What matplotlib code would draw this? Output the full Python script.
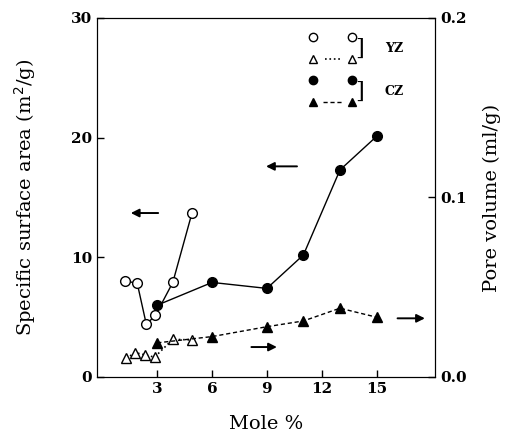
import numpy as np
import matplotlib
matplotlib.use('Agg')
from matplotlib import pyplot as plt

# surface area (left axis)
yz_x = [1.25, 1.9, 2.4, 2.9, 3.85, 4.9]
yz_area = [8.0, 7.85, 4.4, 5.15, 7.9, 13.7]
cz_x = [3, 6, 9, 11, 13, 15]
cz_area = [6.0, 7.9, 7.4, 10.2, 17.3, 20.1]

# pore volume (right axis)
yz_px = [1.3, 1.8, 2.35, 2.85, 3.85, 4.9]
yz_pore = [0.0105, 0.0135, 0.0123, 0.011, 0.021, 0.0206]
cz_pore = [0.019, 0.0225, 0.028, 0.0312, 0.0383, 0.0333]

plt.rcParams['font.family'] = ['DejaVu Serif']

fig = plt.figure(figsize=(5.2, 4.44), dpi=100)
ax = fig.add_axes([0.1865, 0.151, 0.65, 0.8085])
ax2 = ax.twinx()

ms = 7
ax.plot(yz_x, yz_area, '-', color='black', lw=1.0, marker='o', ms=ms,
        mfc='white', mec='black', mew=1.0)
ax.plot(cz_x, cz_area, '-', color='black', lw=1.0, marker='o', ms=ms,
        mfc='black', mec='black')
ax2.plot(yz_px, yz_pore, ':', color='black', lw=1.2, marker='^', ms=ms,
         mfc='white', mec='black', mew=1.0)
ax2.plot(cz_x, cz_pore, color='black', lw=1.0, ls=(0, (3, 2)), marker='^', ms=ms,
         mfc='black', mec='black')

ax.set_xlim(-0.3, 18.2)
ax.set_ylim(0, 30)
ax2.set_ylim(0, 0.2)
ax.set_xticks([3, 6, 9, 12, 15])
ax.set_yticks([0, 10, 20, 30])
ax2.set_yticks([0.0, 0.1, 0.2])
ax2.set_yticklabels(['0.0', '0.1', '0.2'])

ax.tick_params(direction='in', length=5, labelsize=11, width=1)
ax2.tick_params(direction='in', length=5, labelsize=11, width=1)
for t in ax.get_xticklabels() + ax.get_yticklabels() + ax2.get_yticklabels():
    t.set_fontweight('bold')

ax.set_xlabel('Mole %', fontsize=14, labelpad=14)
ax.set_ylabel('Specific surface area (m$^2$/g)', fontsize=14, labelpad=24)
ax2.set_ylabel('Pore volume (ml/g)', fontsize=14, labelpad=12)

# arrows pointing to the axis each series belongs to
arrow = dict(arrowstyle='-|>', color='black', lw=1.4, mutation_scale=12)
ax.annotate('', xy=(1.4, 13.7), xytext=(3.2, 13.7), arrowprops=arrow)
ax.annotate('', xy=(8.8, 17.6), xytext=(10.8, 17.6), arrowprops=arrow)
ax.annotate('', xy=(9.7, 2.5), xytext=(8.0, 2.5), arrowprops=arrow)
ax.annotate('', xy=(17.8, 4.9), xytext=(16.0, 4.9), arrowprops=arrow)

# legend drawn by hand
tr = ax.transAxes
lx1, lx2 = 0.64, 0.755
lms = 6
ax.plot([lx1, lx2], [0.946, 0.946], 'o', transform=tr, ms=lms, mfc='white', mec='black', clip_on=False)
ax.plot([lx1, lx2], [0.886, 0.886], '^', transform=tr, ms=lms, mfc='white', mec='black', clip_on=False)
ax.plot([0.675, 0.72], [0.886, 0.886], ':', transform=tr, color='black', lw=1.2)
ax.plot([lx1, lx2], [0.827, 0.827], 'o', transform=tr, ms=lms, mfc='black', mec='black', clip_on=False)
ax.plot([lx1, lx2], [0.766, 0.766], '^', transform=tr, ms=lms, mfc='black', mec='black', clip_on=False)
ax.plot([0.67, 0.725], [0.766, 0.766], transform=tr, color='black', ls=(0, (3, 2)), lw=1.0)
ax.text(0.777, 0.915, ']', transform=tr, fontsize=16, va='center', ha='center')
ax.text(0.777, 0.795, ']', transform=tr, fontsize=16, va='center', ha='center')
ax.text(0.88, 0.915, 'YZ', transform=tr, fontsize=9, va='center', ha='center', fontweight='bold')
ax.text(0.88, 0.795, 'CZ', transform=tr, fontsize=9, va='center', ha='center', fontweight='bold')

plt.savefig('out.png', dpi=100)
